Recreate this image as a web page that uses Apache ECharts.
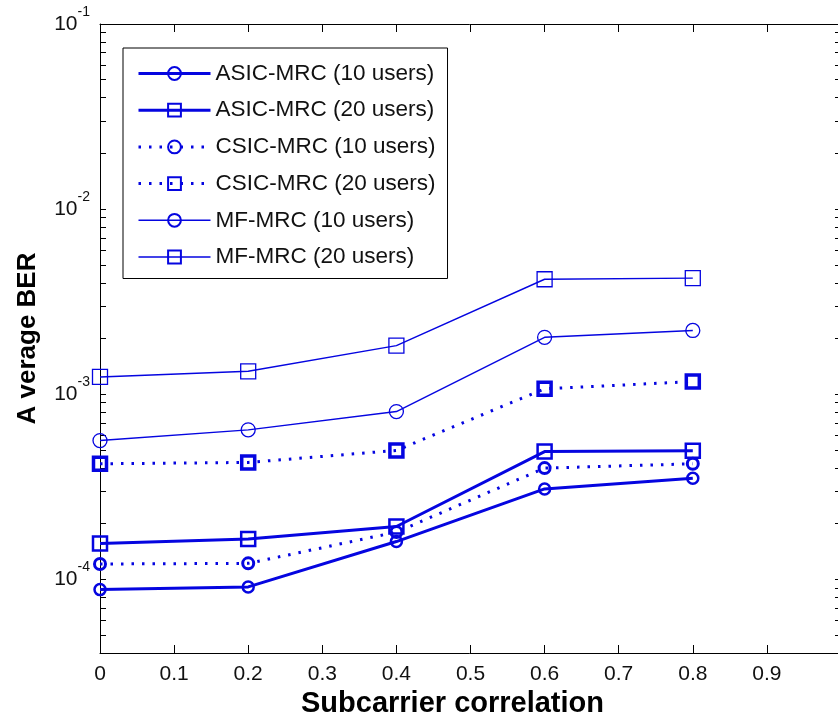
<!DOCTYPE html>
<html><head><meta charset="utf-8">
<script src="https://cdn.jsdelivr.net/npm/echarts@6/dist/echarts.min.js"></script>
<style>html,body{margin:0;padding:0;background:#fff;}#c{width:838px;height:717px;}</style>
</head><body><div id="c"></div>
<script>
// ---- data ----
const xValues = [0, 0.2, 0.4, 0.6, 0.8];
const asic10 = [8.8e-5, 9.1e-5, 1.6e-4, 3.08e-4, 3.52e-4];
const asic20 = [1.56e-4, 1.65e-4, 1.93e-4, 4.9e-4, 4.95e-4];
const csic10 = [1.21e-4, 1.22e-4, 1.8e-4, 3.99e-4, 4.21e-4];
const csic20 = [4.21e-4, 4.28e-4, 4.97e-4, 1.07e-3, 1.17e-3];
const mf10 = [5.62e-4, 6.42e-4, 8.06e-4, 2.03e-3, 2.21e-3];
const mf20 = [1.24e-3, 1.33e-3, 1.83e-3, 4.18e-3, 4.24e-3];
const seriesNames = ['ASIC-MRC (10 users)', 'ASIC-MRC (20 users)', 'CSIC-MRC (10 users)', 'CSIC-MRC (20 users)', 'MF-MRC (10 users)', 'MF-MRC (20 users)'];
const xTickLabels = ['0', '0.1', '0.2', '0.3', '0.4', '0.5', '0.6', '0.7', '0.8', '0.9', '1'];
const yMajorTicks = [1e-4, 1e-3, 1e-2, 1e-1];
const yTickExponents = ['-4', '-3', '-2', '-1'];
const yMinorTicks = [5e-5, 6e-5, 7e-5, 8e-5, 9e-5,
  2e-4, 3e-4, 4e-4, 5e-4, 6e-4, 7e-4, 8e-4, 9e-4,
  2e-3, 3e-3, 4e-3, 5e-3, 6e-3, 7e-3, 8e-3, 9e-3,
  2e-2, 3e-2, 4e-2, 5e-2, 6e-2, 7e-2, 8e-2, 9e-2];
const xTitle = 'Subcarrier correlation';
const yTitle = 'A verage BER';

// ---- chart ----
const BLUE = '#0505e0';
const FONT = '"Liberation Sans", Arial, Helvetica, sans-serif';
const pair = arr => xValues.map((x, i) => [x, arr[i]]);
const allYTicks = yMajorTicks.concat(yMinorTicks).sort((a, b) => a - b);
const lineWidths = [3, 3, 3, 3, 1.4, 1.4];

function mk(name, data, symbol, size, lw, bw, dash) {
  return {
    name, type: 'line', data: pair(data), xAxisIndex: 0, yAxisIndex: 0,
    symbol, symbolSize: size, showSymbol: true,
    lineStyle: { color: BLUE, width: lw, type: dash || 'solid', cap: 'butt' },
    itemStyle: { color: 'rgba(255,255,255,0)', borderColor: BLUE, borderWidth: bw },
    emphasis: { disabled: true }, animation: false, z: 3
  };
}

const chart = echarts.init(document.getElementById('c'), null, { renderer: 'canvas' });
const yBase = { type: 'log', logBase: 10, min: 4e-5, max: 0.1, gridIndex: 0, splitLine: { show: false } };
chart.setOption({
  backgroundColor: '#fff',
  animation: false,
  textStyle: { fontFamily: FONT },
  grid: { left: 100, top: 24, width: 741, height: 629, containLabel: false, outerBoundsMode: 'none' },
  legend: {
    orient: 'vertical', left: 123, top: 48,
    padding: [14, 12, 10, 14],
    itemWidth: 72, itemHeight: 16, itemGap: 13.7,
    borderColor: '#000', borderWidth: 1, backgroundColor: '#fff',
    textStyle: { fontSize: 22.5, color: '#111', fontFamily: FONT },
    data: seriesNames.map((n, i) => ({ name: n, lineStyle: { width: lineWidths[i] } })),
    selectedMode: false
  },
  xAxis: [
    {
      type: 'value', min: 0, max: 1, interval: 0.1, position: 'bottom',
      axisLine: { show: true, onZero: false, lineStyle: { color: '#000', width: 1 } },
      axisTick: { show: true, inside: true, length: 8, lineStyle: { color: '#000' } },
      axisLabel: { show: true, margin: 11, fontSize: 21, color: '#111', fontFamily: FONT, showMaxLabel: false,
        formatter: v => xTickLabels[Math.round(v * 10)] },
      splitLine: { show: false },
      name: xTitle, nameLocation: 'middle', nameGap: 35,
      nameTextStyle: { fontSize: 29, fontWeight: 'bold', color: '#000', fontFamily: FONT, padding: [0, 36, 0, 0] }
    },
    {
      type: 'value', min: 0, max: 1, interval: 0.1, position: 'top',
      axisLine: { show: true, onZero: false, lineStyle: { color: '#000', width: 1 } },
      axisTick: { show: true, inside: true, length: 8, lineStyle: { color: '#000' } },
      axisLabel: { show: false }, splitLine: { show: false }
    }
  ],
  yAxis: [
    Object.assign({}, yBase, {
      position: 'left',
      axisLine: { show: true, onZero: false, lineStyle: { color: '#000', width: 1 } },
      axisTick: { show: true, inside: true, length: 6, customValues: allYTicks, lineStyle: { color: '#000' } },
      axisLabel: {
        show: true, margin: 10, customValues: yMajorTicks, color: '#111', fontFamily: FONT,
        formatter: v => '{b|10}{s|' + yTickExponents[yMajorTicks.findIndex(t => Math.abs(Math.log10(t) - Math.log10(v)) < 1e-6)] + '}',
        rich: {
          b: { fontSize: 21, lineHeight: 38, color: '#111', fontFamily: FONT, verticalAlign: 'middle' },
          s: { fontSize: 14, lineHeight: 14, color: '#111', fontFamily: FONT, verticalAlign: 'top' }
        }
      },
      name: yTitle, nameLocation: 'middle', nameGap: 59, nameRotate: 90,
      nameTextStyle: { fontSize: 26, fontWeight: 'bold', color: '#000', fontFamily: FONT }
    }),
    Object.assign({}, yBase, {
      position: 'right', offset: 0,
      axisLine: { show: true, onZero: false, lineStyle: { color: '#000', width: 1 } },
      axisTick: { show: true, inside: true, length: 6, customValues: allYTicks, lineStyle: { color: '#000' } },
      axisLabel: { show: false }
    })
  ],
  series: [
    mk(seriesNames[0], asic10, 'circle', 11, lineWidths[0], 2.5),
    mk(seriesNames[1], asic20, 'rect', 14, lineWidths[1], 2.5),
    mk(seriesNames[2], csic10, 'circle', 11, lineWidths[2], 3, [2.5, 8]),
    mk(seriesNames[3], csic20, 'rect', 13, lineWidths[3], 3.5, [2.5, 8]),
    mk(seriesNames[4], mf10, 'circle', 14, lineWidths[4], 1.3),
    mk(seriesNames[5], mf20, 'rect', 15, lineWidths[5], 1.3)
  ]
});
</script>
</body></html>
